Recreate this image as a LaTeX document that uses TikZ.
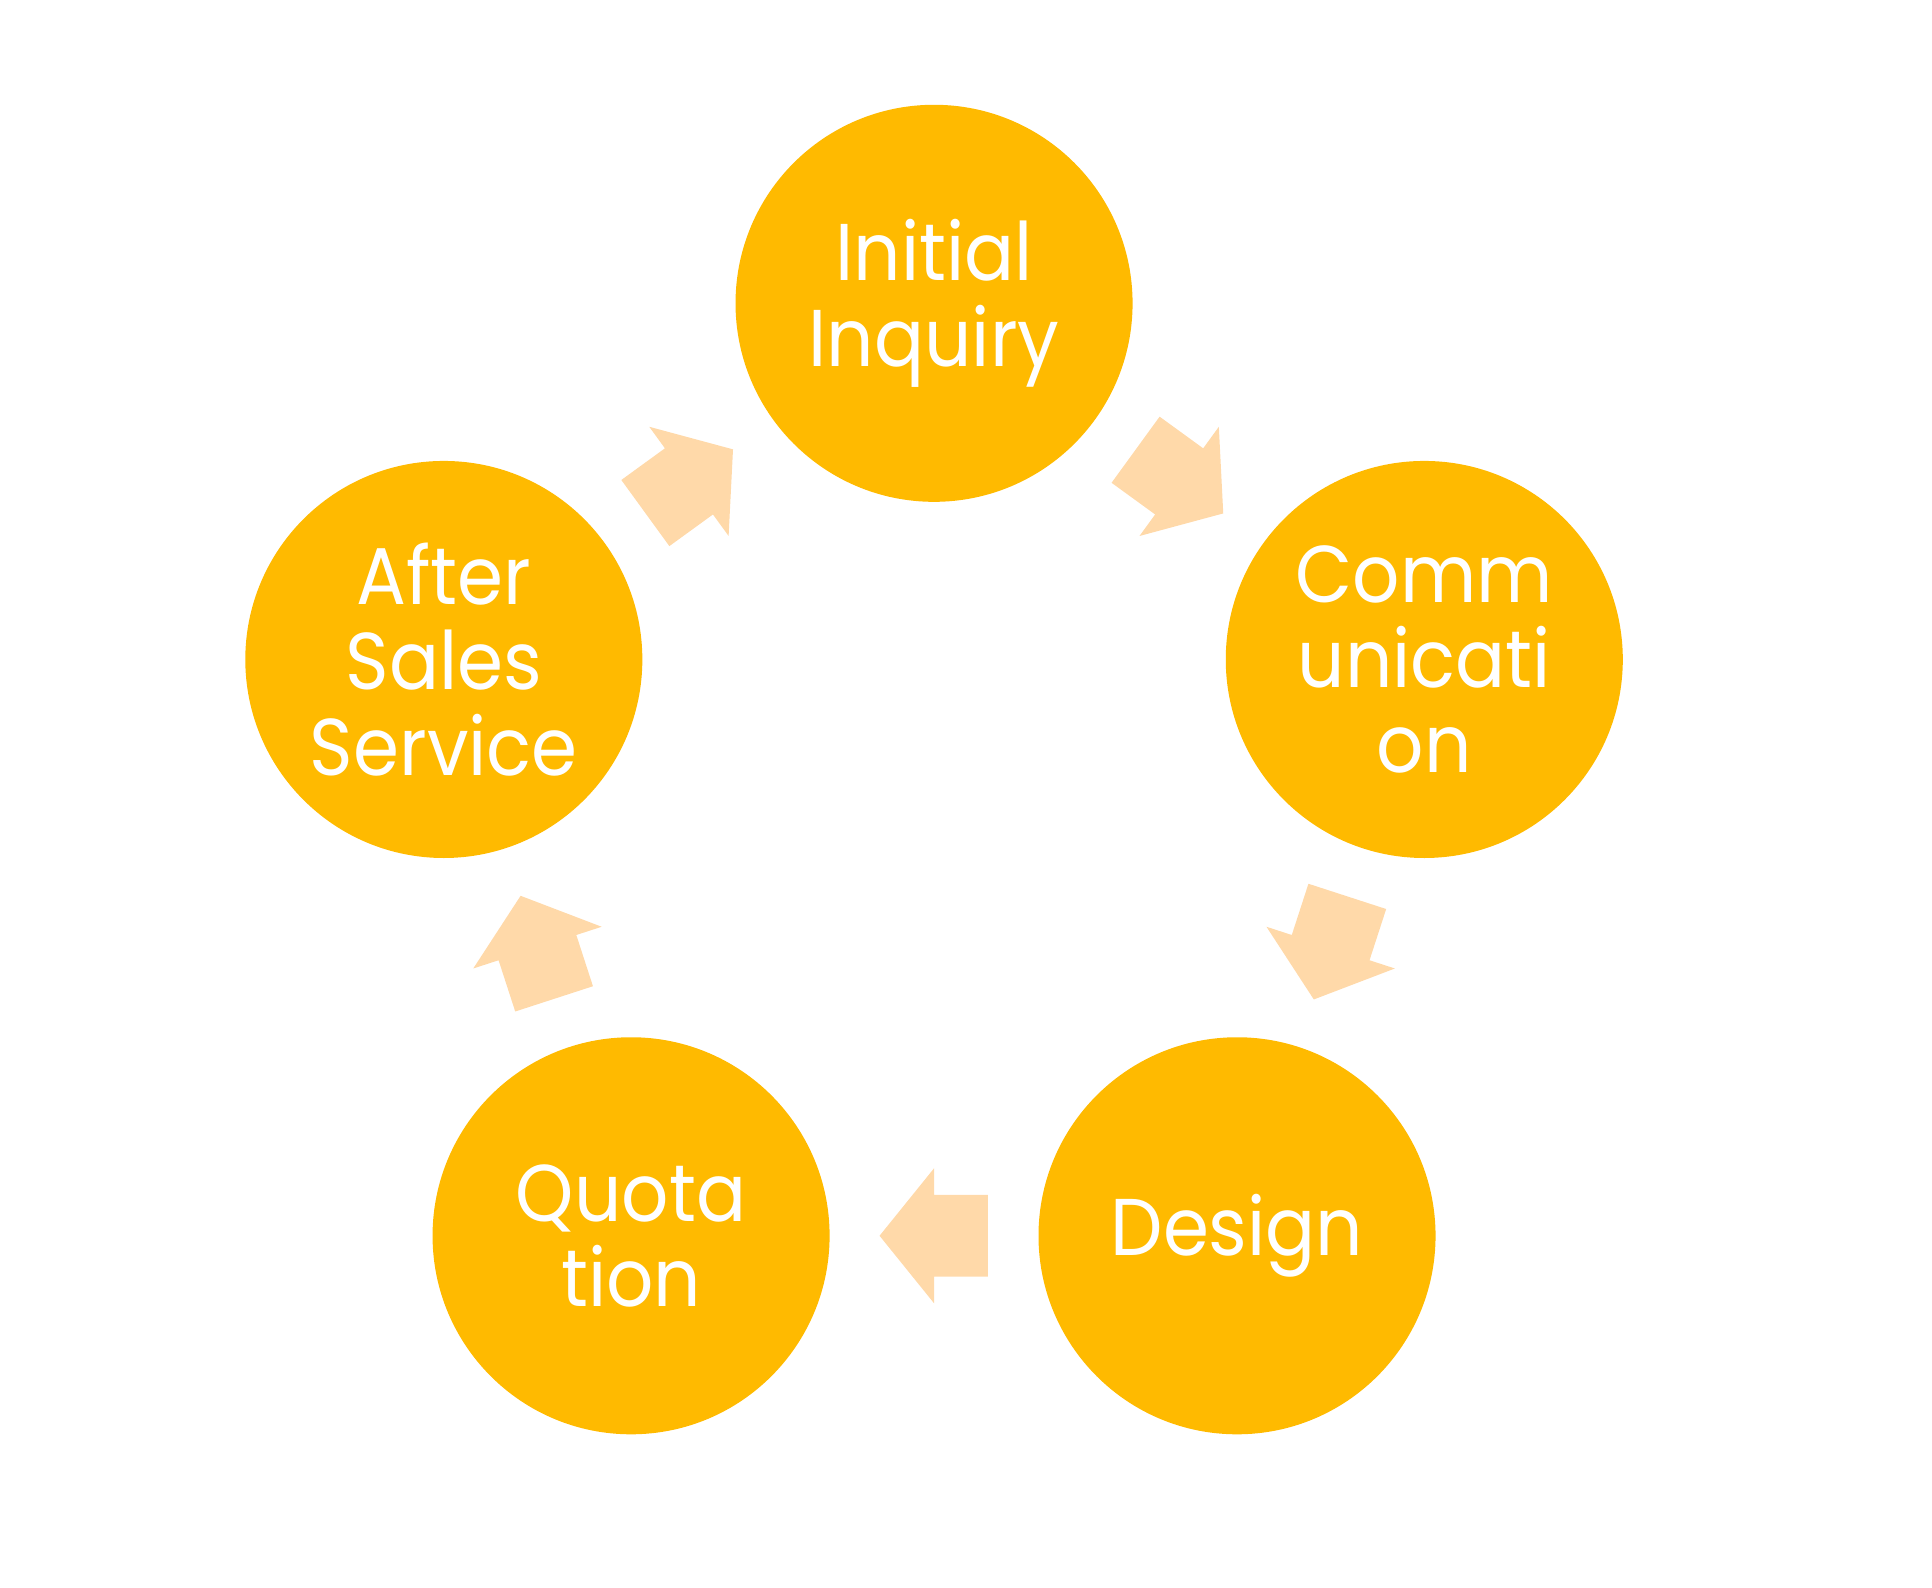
\documentclass[tikz,border=0pt]{standalone}
\usepackage{fontspec}
\setmainfont{Poppins}[FakeStretch=0.92]
\usetikzlibrary{calc}

\definecolor{gold}{HTML}{FFBA00}
\definecolor{peach}{HTML}{FFD9A9}

\tikzset{
  stage/.style={circle, fill=gold, minimum size=3.206cm, inner sep=0pt, text=white,
    align=center, font=\fontsize{18.5}{19.6}\selectfont},
  cyclearrow/.pic={
    \fill[peach] (-0.435,-0.33) -- (0,-0.33) -- (0,-0.545) -- (0.44,0)
      -- (0,0.545) -- (0,0.33) -- (-0.435,0.33) -- cycle;
  }
}

\begin{document}
\begin{tikzpicture}
  \useasboundingbox (-7.542,-6.211) rectangle (8.058,6.611);

  \node[stage] (inquiry) at (90:4.162) {Initial\\Inquiry};
  \node[stage] (comm) at (18:4.162) {Comm\\unicati\\on};
  \node[stage] (design) at (-54:4.162) {Design};
  \node[stage] (quote) at (-126:4.162) {Quota\\tion};
  \node[stage] (after) at (162:4.162) {After\\Sales\\Service};

  \path (inquiry) -- pic[pos=0.5, sloped, allow upside down]{cyclearrow} (comm);
  \path (comm) -- pic[pos=0.5, sloped, allow upside down]{cyclearrow} (design);
  \path (design) -- pic[pos=0.5, sloped, allow upside down]{cyclearrow} (quote);
  \path (quote) -- pic[pos=0.5, sloped, allow upside down]{cyclearrow} (after);
  \path (after) -- pic[pos=0.5, sloped, allow upside down]{cyclearrow} (inquiry);
\end{tikzpicture}
\end{document}
